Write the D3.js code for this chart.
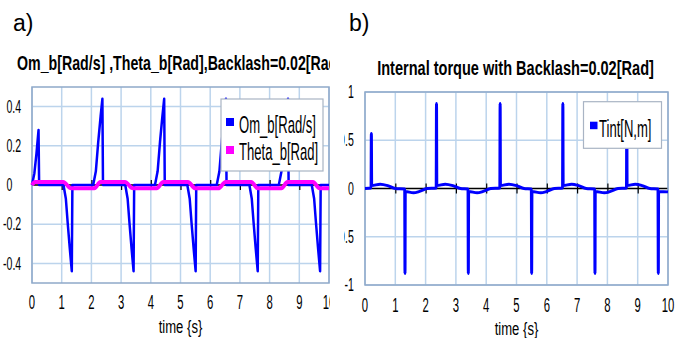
<!DOCTYPE html>
<html><head><meta charset="utf-8">
<script src="https://cdn.jsdelivr.net/npm/d3@7/dist/d3.min.js"></script>
<style>body{margin:0;background:#fff;overflow:hidden}</style>
</head><body>
<svg id="c" width="688" height="338"></svg>
<script>
// ---------------- data ----------------
const timeTicks = [0,1,2,3,4,5,6,7,8,9,10];
const yTicksA = [0.4,0.2,0,-0.2,-0.4];
const yTicksB = [1,0.5,0,-0.5,-1];
const titleA = "Om_b[Rad/s] ,Theta_b[Rad],Backlash=0.02[Rad]";
const titleB = "Internal torque with Backlash=0.02[Rad]";
const seriesA = ["Om_b[Rad/s]","Theta_b[Rad]"];
const seriesB = ["Tint[N,m]"];
// Om_b [t, value]
const omB = [[0,0],[0.08,0.06],[0.15,0.16],[0.22,0.28],[0.24,0],
 [1.06,0],[1.14,-0.07],[1.2,-0.19],[1.27,-0.32],[1.34,-0.44],[1.36,0],
 [2.06,0],[2.15,0.07],[2.23,0.22],[2.31,0.35],[2.37,0.44],[2.39,0],
 [3.14,0],[3.22,-0.07],[3.28,-0.19],[3.35,-0.32],[3.42,-0.44],[3.44,0],
 [4.14,0],[4.23,0.07],[4.31,0.22],[4.39,0.35],[4.45,0.44],[4.47,0],
 [5.23,0],[5.31,-0.07],[5.37,-0.19],[5.44,-0.32],[5.51,-0.44],[5.53,0],
 [6.22,0],[6.31,0.07],[6.39,0.22],[6.47,0.35],[6.53,0.44],[6.55,0],
 [7.32,0],[7.4,-0.07],[7.46,-0.19],[7.53,-0.32],[7.6,-0.44],[7.62,0],
 [8.31,0],[8.4,0.07],[8.48,0.22],[8.56,0.35],[8.62,0.44],[8.64,0],
 [9.42,0],[9.5,-0.07],[9.56,-0.19],[9.63,-0.32],[9.7,-0.44],[9.72,0],[10,0]];
// Theta_b [t, value]
const thetaB = [[0,0],[0.1,0.015],[1.05,0.015],[1.32,-0.017],[2.1,-0.017],[2.3,0.015],
 [3.13,0.015],[3.4,-0.017],[4.2,-0.017],[4.42,0.015],[5.25,0.015],[5.5,-0.017],
 [6.27,-0.017],[6.52,0.015],[7.38,0.015],[7.6,-0.017],[8.4,-0.017],[8.6,0.015],
 [9.46,0.015],[9.68,-0.017],[10,-0.017]];
// Tint [t, value]
const tint = [[0,0],[0.2,0.005],[0.21,0.57],[0.22,0.03],[0.5,0.045],[0.75,0.03],[1.0,0],[1.31,-0.005],
 [1.32,-0.88],[1.33,-0.03],[1.6,-0.045],[1.8,-0.03],[2.05,0],[2.35,0.005],
 [2.36,0.88],[2.37,0.03],[2.65,0.045],[2.9,0.03],[3.15,0],[3.4,-0.005],
 [3.41,-0.88],[3.42,-0.03],[3.7,-0.045],[3.9,-0.03],[4.15,0],[4.45,0.005],
 [4.46,0.88],[4.47,0.03],[4.75,0.045],[5.0,0.03],[5.25,0],[5.49,-0.005],
 [5.5,-0.88],[5.51,-0.03],[5.8,-0.045],[6.0,-0.03],[6.25,0],[6.52,0.005],
 [6.53,0.88],[6.54,0.03],[6.82,0.045],[7.05,0.03],[7.3,0],[7.58,-0.005],
 [7.59,-0.88],[7.6,-0.03],[7.9,-0.045],[8.1,-0.03],[8.35,0],[8.63,0.005],
 [8.64,0.88],[8.65,0.03],[8.92,0.045],[9.15,0.03],[9.4,0],[9.67,-0.005],
 [9.68,-0.88],[9.69,-0.03],[10,-0.035]];

// ---------------- styling ----------------
const FONT = "'Liberation Sans', Arial, sans-serif";
const GRID = "#bcd4ec", BORDER = "#8fa9c9";
const BLUE = "#0000ff", MAGENTA = "#ff00ff";

const svg = d3.select("#c");
const defs = svg.append("defs");
defs.append("clipPath").attr("id","clipA").append("rect").attr("x",0).attr("y",0).attr("width",330).attr("height",338);
defs.append("clipPath").attr("id","clipB").append("rect").attr("x",344).attr("y",0).attr("width",344).attr("height",338);

// measure natural width
const meas = svg.append("text").attr("x",-1000).attr("y",-1000).style("font-family",FONT);
function natW(str, size, weight){
  meas.style("font-size",size+"px").style("font-weight",weight||"normal").text(str);
  return meas.node().getComputedTextLength();
}
const tickSx = 14.7 / natW("0.4",17.5);
const titleSx = 277 / natW(titleB,21,"bold");
const legSx = 77 / natW("Om_b[Rad/s]",24);
const labSx = 43.7 / natW("time {s}",18.5);
const xtSx = 0.58;
meas.remove();

function txt(g, str, x, y, o){
  const t = g.append("text")
    .attr("transform",`translate(${x},${y}) scale(${o.sx||1},1)`)
    .attr("text-anchor",o.anchor||"start")
    .style("font-family",FONT).style("font-size",o.size+"px")
    .style("font-weight",o.weight||"normal").style("fill","#000")
    .text(str);
  return t;
}

function panel(cfg){
  const g = svg.append("g").attr("clip-path",`url(#${cfg.clip})`);
  const x = d3.scaleLinear().domain([0,10]).range(cfg.xr);
  const y = d3.scaleLinear().domain(cfg.yd).range(cfg.yr);
  // grid
  g.append("g").selectAll("line").data(timeTicks).join("line")
    .attr("x1",d=>x(d)).attr("x2",d=>x(d)).attr("y1",cfg.yr[1]).attr("y2",cfg.yr[0])
    .attr("stroke",GRID).attr("stroke-width",1.5);
  g.append("g").selectAll("line").data(cfg.yt.filter(v=>v!==0)).join("line")
    .attr("x1",cfg.xr[0]).attr("x2",cfg.xr[1]).attr("y1",d=>y(d)).attr("y2",d=>y(d))
    .attr("stroke",GRID).attr("stroke-width",1.5);
  // zero axis with crossing ticks
  const ax = g.append("g").attr("transform",`translate(0,${y(0)-5})`)
    .call(d3.axisBottom(x).tickValues(timeTicks.slice(1,-1)).tickSize(10).tickFormat(""));
  ax.select(".domain").remove();
  ax.selectAll(".tick line").attr("stroke","#000").attr("stroke-width",1.2);
  g.append("line").attr("x1",cfg.xr[0]).attr("x2",cfg.xr[1]).attr("y1",y(0)).attr("y2",y(0))
    .attr("stroke","#000").attr("stroke-width",1.5);
  // border
  g.append("rect").attr("x",cfg.xr[0]).attr("y",cfg.yr[1])
    .attr("width",cfg.xr[1]-cfg.xr[0]).attr("height",cfg.yr[0]-cfg.yr[1])
    .attr("fill","none").attr("stroke",BORDER).attr("stroke-width",1.5);
  // x tick labels
  timeTicks.forEach(v=>txt(g,String(v),x(v),cfg.xlabY,{size:19.5,sx:xtSx,anchor:"middle"}));
  txt(g,"time {s}",(cfg.xr[0]+cfg.xr[1])/2,cfg.labY,{size:18.5,sx:labSx,anchor:"middle"});
  return {g,x,y};
}

// ---------------- panel a ----------------
const A = panel({clip:"clipA",xr:[32,329],yr:[283,87],yd:[-0.5,0.5],yt:yTicksA,xlabY:308.5,labY:333});
yTicksA.forEach(v=>{
  const minusW = v<0 ? 3.5 : 0;
  txt(A.g, String(v), 6.5-minusW, A.y(v)+6.2, {size:17.5,sx:tickSx});
});
const lineA = d3.line().x(d=>A.x(d[0])).y(d=>A.y(d[1]));
A.g.append("path").datum(omB).attr("d",lineA).attr("fill","none").attr("stroke",BLUE).attr("stroke-width",2.5).attr("stroke-linejoin","round");
A.g.append("path").datum(thetaB).attr("d",lineA.curve(d3.curveMonotoneX)).attr("fill","none").attr("stroke",MAGENTA).attr("stroke-width",4).attr("stroke-linejoin","round");
txt(A.g,"a)",13,31,{size:23});
txt(A.g,titleA,17,69.5,{size:21,weight:"bold",sx:titleSx*0.975});
// legend a
const LA = A.g.append("g");
LA.append("rect").attr("x",221).attr("y",99).attr("width",102).attr("height",72)
  .attr("fill","#fff").attr("stroke","#a9b4c4").attr("stroke-width",1.2);
[BLUE,MAGENTA].forEach((c,i)=>{
  LA.append("rect").attr("x",226).attr("y",118+i*28).attr("width",8).attr("height",8).attr("fill",c);
  txt(LA,seriesA[i],239,132.5+i*27.5,{size:24,sx:legSx});
});

// ---------------- panel b ----------------
const B = panel({clip:"clipB",xr:[365,668],yr:[285,92],yd:[-1,1],yt:yTicksB,xlabY:311.7,labY:335});
yTicksB.forEach(v=>{
  txt(B.g, String(v), 353.8, B.y(v)+6.2, {size:17.5,sx:tickSx,anchor:"end"});
});
const lineB = d3.line().x(d=>B.x(d[0])).y(d=>B.y(d[1])).curve(d3.curveMonotoneX);
B.g.append("path").datum(tint).attr("d",lineB).attr("fill","none").attr("stroke",BLUE).attr("stroke-width",3).attr("stroke-linejoin","round");
txt(B.g,"b)",349,31,{size:23});
txt(B.g,titleB,515.5,74.5,{size:21,weight:"bold",sx:titleSx,anchor:"middle"});
const LB = B.g.append("g");
LB.append("rect").attr("x",583.5).attr("y",101.7).attr("width",78).attr("height",46.6)
  .attr("fill","#fff").attr("stroke","#a9b4c4").attr("stroke-width",1.2);
LB.append("rect").attr("x",590).attr("y",121.7).attr("width",7.5).attr("height",7.5).attr("fill",BLUE);
txt(LB,seriesB[0],599,136.5,{size:24,sx:legSx});
</script>
</body></html>
